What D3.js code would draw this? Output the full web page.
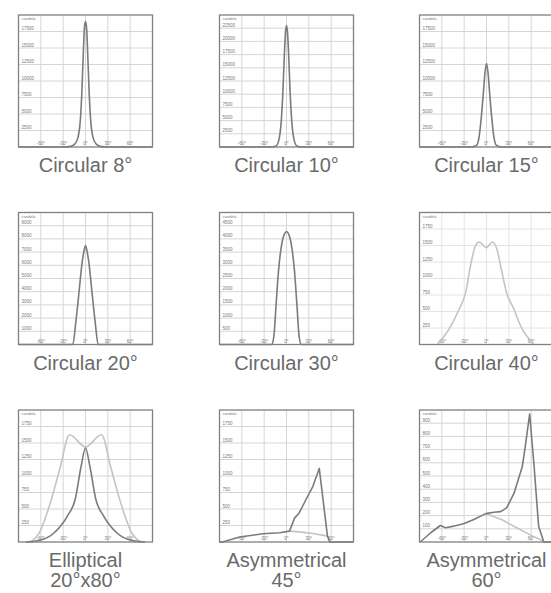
<!DOCTYPE html>
<html>
<head>
<meta charset="utf-8">
<style>
  body { margin: 0; background: #fff; }
  svg { display: block; }
</style>
</head>
<body>
<svg></svg>
<script src="https://cdn.jsdelivr.net/npm/d3@7"></script>
<script>
// chart titles (one entry per panel, lines split)
const titles = [
  ["Circular 8°"], ["Circular 10°"], ["Circular 15°"],
  ["Circular 20°"], ["Circular 30°"], ["Circular 40°"],
  ["Elliptical", "20°x80°"], ["Asymmetrical", "45°"], ["Asymmetrical", "60°"]
];
const yMax  = [20000, 25000, 20000, 10000, 5000, 2000, 2000, 2000, 1000];
const yStep = [2500, 2500, 2500, 1000, 500, 250, 250, 250, 100];
const xTicks = [-60, -30, 0, 30, 60];
const unitLabel = "candela";

// intensity curves, [angle, candela]
const circ8 = [[-90,0],[-30,0],[-20,100],[-14,500],[-10,1500],[-7,4000],[-5,8000],[-3,14000],[-1.5,18000],[0,19000],
  [1.5,18000],[3,14000],[5,8000],[7,4000],[10,1500],[14,500],[20,100],[30,0],[90,0]];
const circ10 = [[-90,0],[-20,0],[-14,200],[-10,1500],[-7,5000],[-5,10000],[-3,17000],[-1.5,21500],[0,23000],
  [1.5,21500],[3,17000],[5,10000],[7,5000],[10,1500],[14,200],[20,0],[90,0]];
const circ15 = [[-90,0],[-20,0],[-13,300],[-10,1500],[-7,4500],[-4,8500],[-2,11300],[0,12650],
  [2,11300],[4,8500],[7,4500],[10,1500],[13,300],[20,0],[90,0]];
const circ20 = [[-90,0],[-17,0],[-13,1700],[-9,3800],[-5,6000],[-2,7100],[0,7500],
  [2,7100],[5,6000],[9,3800],[13,1700],[17,0],[90,0]];
const circ30 = [[-90,0],[-20,0],[-17,300],[-14,1500],[-11,2700],[-7,3700],[-4,4100],[-2,4230],[0,4280],
  [2,4230],[4,4100],[7,3700],[11,2700],[14,1500],[17,300],[20,0],[90,0]];
const circ40 = [[-66,0],[-48,278],[-37,531],[-28,785],[-21.5,1190],[-15,1494],[-10,1554],[0,1468],
  [8,1554],[14,1443],[19,1190],[27,785],[37,531],[46,278],[64,0]];
const ellNarrow = [[-80,0],[-60,30],[-42,140],[-24,400],[-14,640],[-6,1140],[0,1425],
  [6,1140],[14,640],[24,400],[42,140],[60,30],[80,0]];
const ellWide = [[-73,0],[-62,140],[-46,640],[-34,1130],[-21.5,1625],[0,1440],
  [21.5,1625],[34,1130],[46,640],[62,140],[73,0]];
const asym45 = [[-90,0],[-86,0],[-63,75],[-32,125],[-9,140],[4,165],[11,365],[17,440],[26,640],[35,830],[44,1115],[55,90],[58,0],[90,0]];
const asym45b = [[4,165],[20,150],[35,130],[50,100],[57,80],[59,0]];
const asym60 = [[-89,0],[-75,70],[-62,125],[-55,108],[-44,120],[-30,140],[-17,170],[-1,215],[10,225],[19,230],[27,258],
  [37,370],[48,570],[52,720],[58,970],[64,570],[70,120],[77,0],[90,0]];
const asym60b = [[-1,215],[20,170],[40,110],[60,50],[72,20],[77,0]];

const dark = "#7b7b7b", light = "#c4c4c4";
const panels = [
  [{d: circ8, c: dark}],
  [{d: circ10, c: dark}],
  [{d: circ15, c: dark}],
  [{d: circ20, c: dark}],
  [{d: circ30, c: dark}],
  [{d: circ40, c: light}],
  [{d: ellWide, c: light}, {d: ellNarrow, c: dark}],
  [{d: asym45b, c: light, lin: true}, {d: asym45, c: dark, lin: true}],
  [{d: asym60b, c: light, lin: true}, {d: asym60, c: dark, lin: true}]
];

const W = 551, H = 593;
const pw = 134, ph = 132;
const lefts = [18.5, 219.5, 419.5], tops = [15, 212.5, 410];

let svg = d3.select("svg").attr("width", W).attr("height", H);

panels.forEach((series, i) => {
  let col = i % 3, row = Math.floor(i / 3);
  let g = svg.append("g").attr("transform", `translate(${lefts[col]},${tops[row]})`);
  let x = d3.scaleLinear().domain([-90, 90]).range([0, pw]);
  let y = d3.scaleLinear().domain([0, yMax[i]]).range([ph, 0]);
  let faint = i === 5;

  g.append("rect").attr("width", pw).attr("height", ph).attr("fill", "#fff");

  let yt = d3.range(yStep[i], yMax[i], yStep[i]);
  g.selectAll(".hg").data(yt).enter().append("line")
    .attr("x1", 0).attr("x2", pw)
    .attr("y1", d => y(d)).attr("y2", d => y(d))
    .attr("stroke", faint ? "#e4e4e4" : "#d6d6d6").attr("stroke-width", 1);
  g.selectAll(".vg").data(xTicks).enter().append("line")
    .attr("x1", d => x(d)).attr("x2", d => x(d))
    .attr("y1", 0).attr("y2", ph)
    .attr("stroke", faint ? "#e4e4e4" : "#d6d6d6").attr("stroke-width", 1);

  // tiny axis text
  g.selectAll(".yl").data(yt).enter().append("text")
    .attr("x", 3).attr("y", d => y(d) - 1.5)
    .attr("font-family", "Liberation Sans, Arial, sans-serif")
    .attr("font-size", 4.5).attr("fill", "#7a7a7a")
    .text(d => d);
  g.append("text").attr("x", 3).attr("y", 5)
    .attr("font-family", "Liberation Sans, Arial, sans-serif")
    .attr("font-size", 4).attr("fill", "#7a7a7a").text(unitLabel);
  g.selectAll(".xl").data(xTicks).enter().append("text")
    .attr("x", d => x(d)).attr("y", ph - 2)
    .attr("text-anchor", "middle")
    .attr("font-family", "Liberation Sans, Arial, sans-serif")
    .attr("font-size", 4.5).attr("fill", "#7a7a7a")
    .text(d => d + "°");

  series.forEach(s => {
    let line = d3.line().x(d => x(d[0])).y(d => y(d[1]))
      .curve(s.lin ? d3.curveLinear : d3.curveMonotoneX);
    g.append("path").datum(s.d)
      .attr("fill", "none").attr("stroke", s.c)
      .attr("stroke-width", 1.6).attr("stroke-linejoin", "round")
      .attr("d", line);
  });

  g.append("rect").attr("width", pw).attr("height", ph)
    .attr("fill", "none").attr("stroke", "#808080").attr("stroke-width", 1.3);

  titles[i].forEach((t, k) => {
    g.append("text")
      .attr("x", pw / 2).attr("y", ph + 25 + k * 20)
      .attr("text-anchor", "middle")
      .attr("font-family", "Liberation Sans, Arial, sans-serif")
      .attr("font-size", 20).attr("fill", "#6a6a6a")
      .text(t);
  });
});
</script>
</body>
</html>
